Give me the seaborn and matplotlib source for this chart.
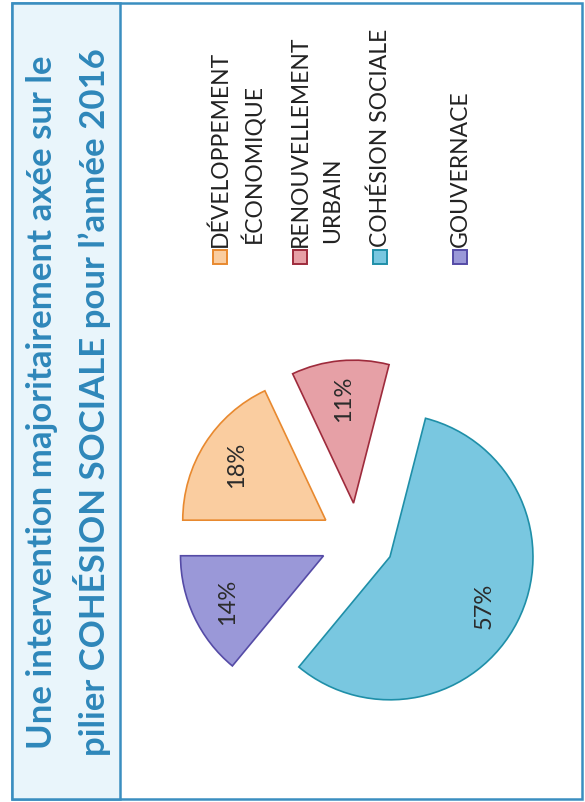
import matplotlib
matplotlib.use("Agg")
import matplotlib.pyplot as plt
from matplotlib.patches import Rectangle
import seaborn as sns

# ── Data ─────────────────────────────────────────────────────
labels = ["DÉVELOPPEMENT\nÉCONOMIQUE", "RENOUVELLEMENT\nURBAIN",
          "COHÉSION SOCIALE", "GOUVERNACE"]
shares = [18, 11, 57, 14]
fills = ["#FACDA0", "#E6A0A6", "#79C7E0", "#9A98D8"]
edges = ["#E8892F", "#9E2B3C", "#1F8FA8", "#554BA6"]
title_lines = ["Une intervention majoritairement axée sur le",
               "pilier COHÉSION SOCIALE pour l’année 2016"]

# ── Style ────────────────────────────────────────────────────
sns.set_theme(style="white")
plt.rcParams['font.family'] = ['Lato', 'DejaVu Sans']

W, H = 585, 803
fig = plt.figure(figsize=(W / 100, H / 100), dpi=100)
ax = fig.add_axes([0, 0, 1, 1])

# frame + title band (picture is turned a quarter turn)
BLUE = "#3A8EC0"
ax.add_patch(Rectangle((12, H - 800), 570, 796, fill=False,
                       edgecolor=BLUE, linewidth=1.8, zorder=1))
ax.add_patch(Rectangle((12, H - 800), 108, 796, facecolor="#E9F5FB",
                       edgecolor=BLUE, linewidth=1.8, zorder=1))
for i, line in enumerate(title_lines):
    ax.text(42 + 50 * i, H - 402, line, rotation=90, ha='center',
            va='center', fontsize=25, fontweight='bold', color="#2E87BA")

# ── Exploded pie (explode is in data units here, i.e. pixels) ─
wedges, _, pcts = ax.pie(
    shares, colors=fills, startangle=180, counterclock=False,
    center=(357, H - 541), radius=143, explode=[37] * len(shares),
    autopct='%d%%', pctdistance=0.74, frame=True,
    wedgeprops=dict(linewidth=1.2),
    textprops=dict(rotation=90, fontsize=17, color="#2B2B2B"))
for w, ec in zip(wedges, edges):
    w.set_edgecolor(ec)
ax.set_xlim(0, W)
ax.set_ylim(0, H)
ax.set_aspect('auto')
ax.axis('off')

# ── Legend (turned as well) ──────────────────────────────────
for i, (lab, fc, ec) in enumerate(zip(labels, fills, edges)):
    x0 = 220 + 80 * i
    ax.add_patch(Rectangle((x0 - 7, H - 265), 14, 14, facecolor=fc,
                           edgecolor=ec, linewidth=1.4))
    parts = lab.split("\n")
    ax.text(x0, H - 247, parts[0], rotation=90, ha='center', va='bottom',
            fontsize=16.5, color="#222222")
    if len(parts) > 1:
        ax.text(x0 + 33, H - 243, parts[1], rotation=90, ha='center',
                va='bottom', fontsize=16.5, color="#222222")

fig.savefig("out.png", dpi=100)
